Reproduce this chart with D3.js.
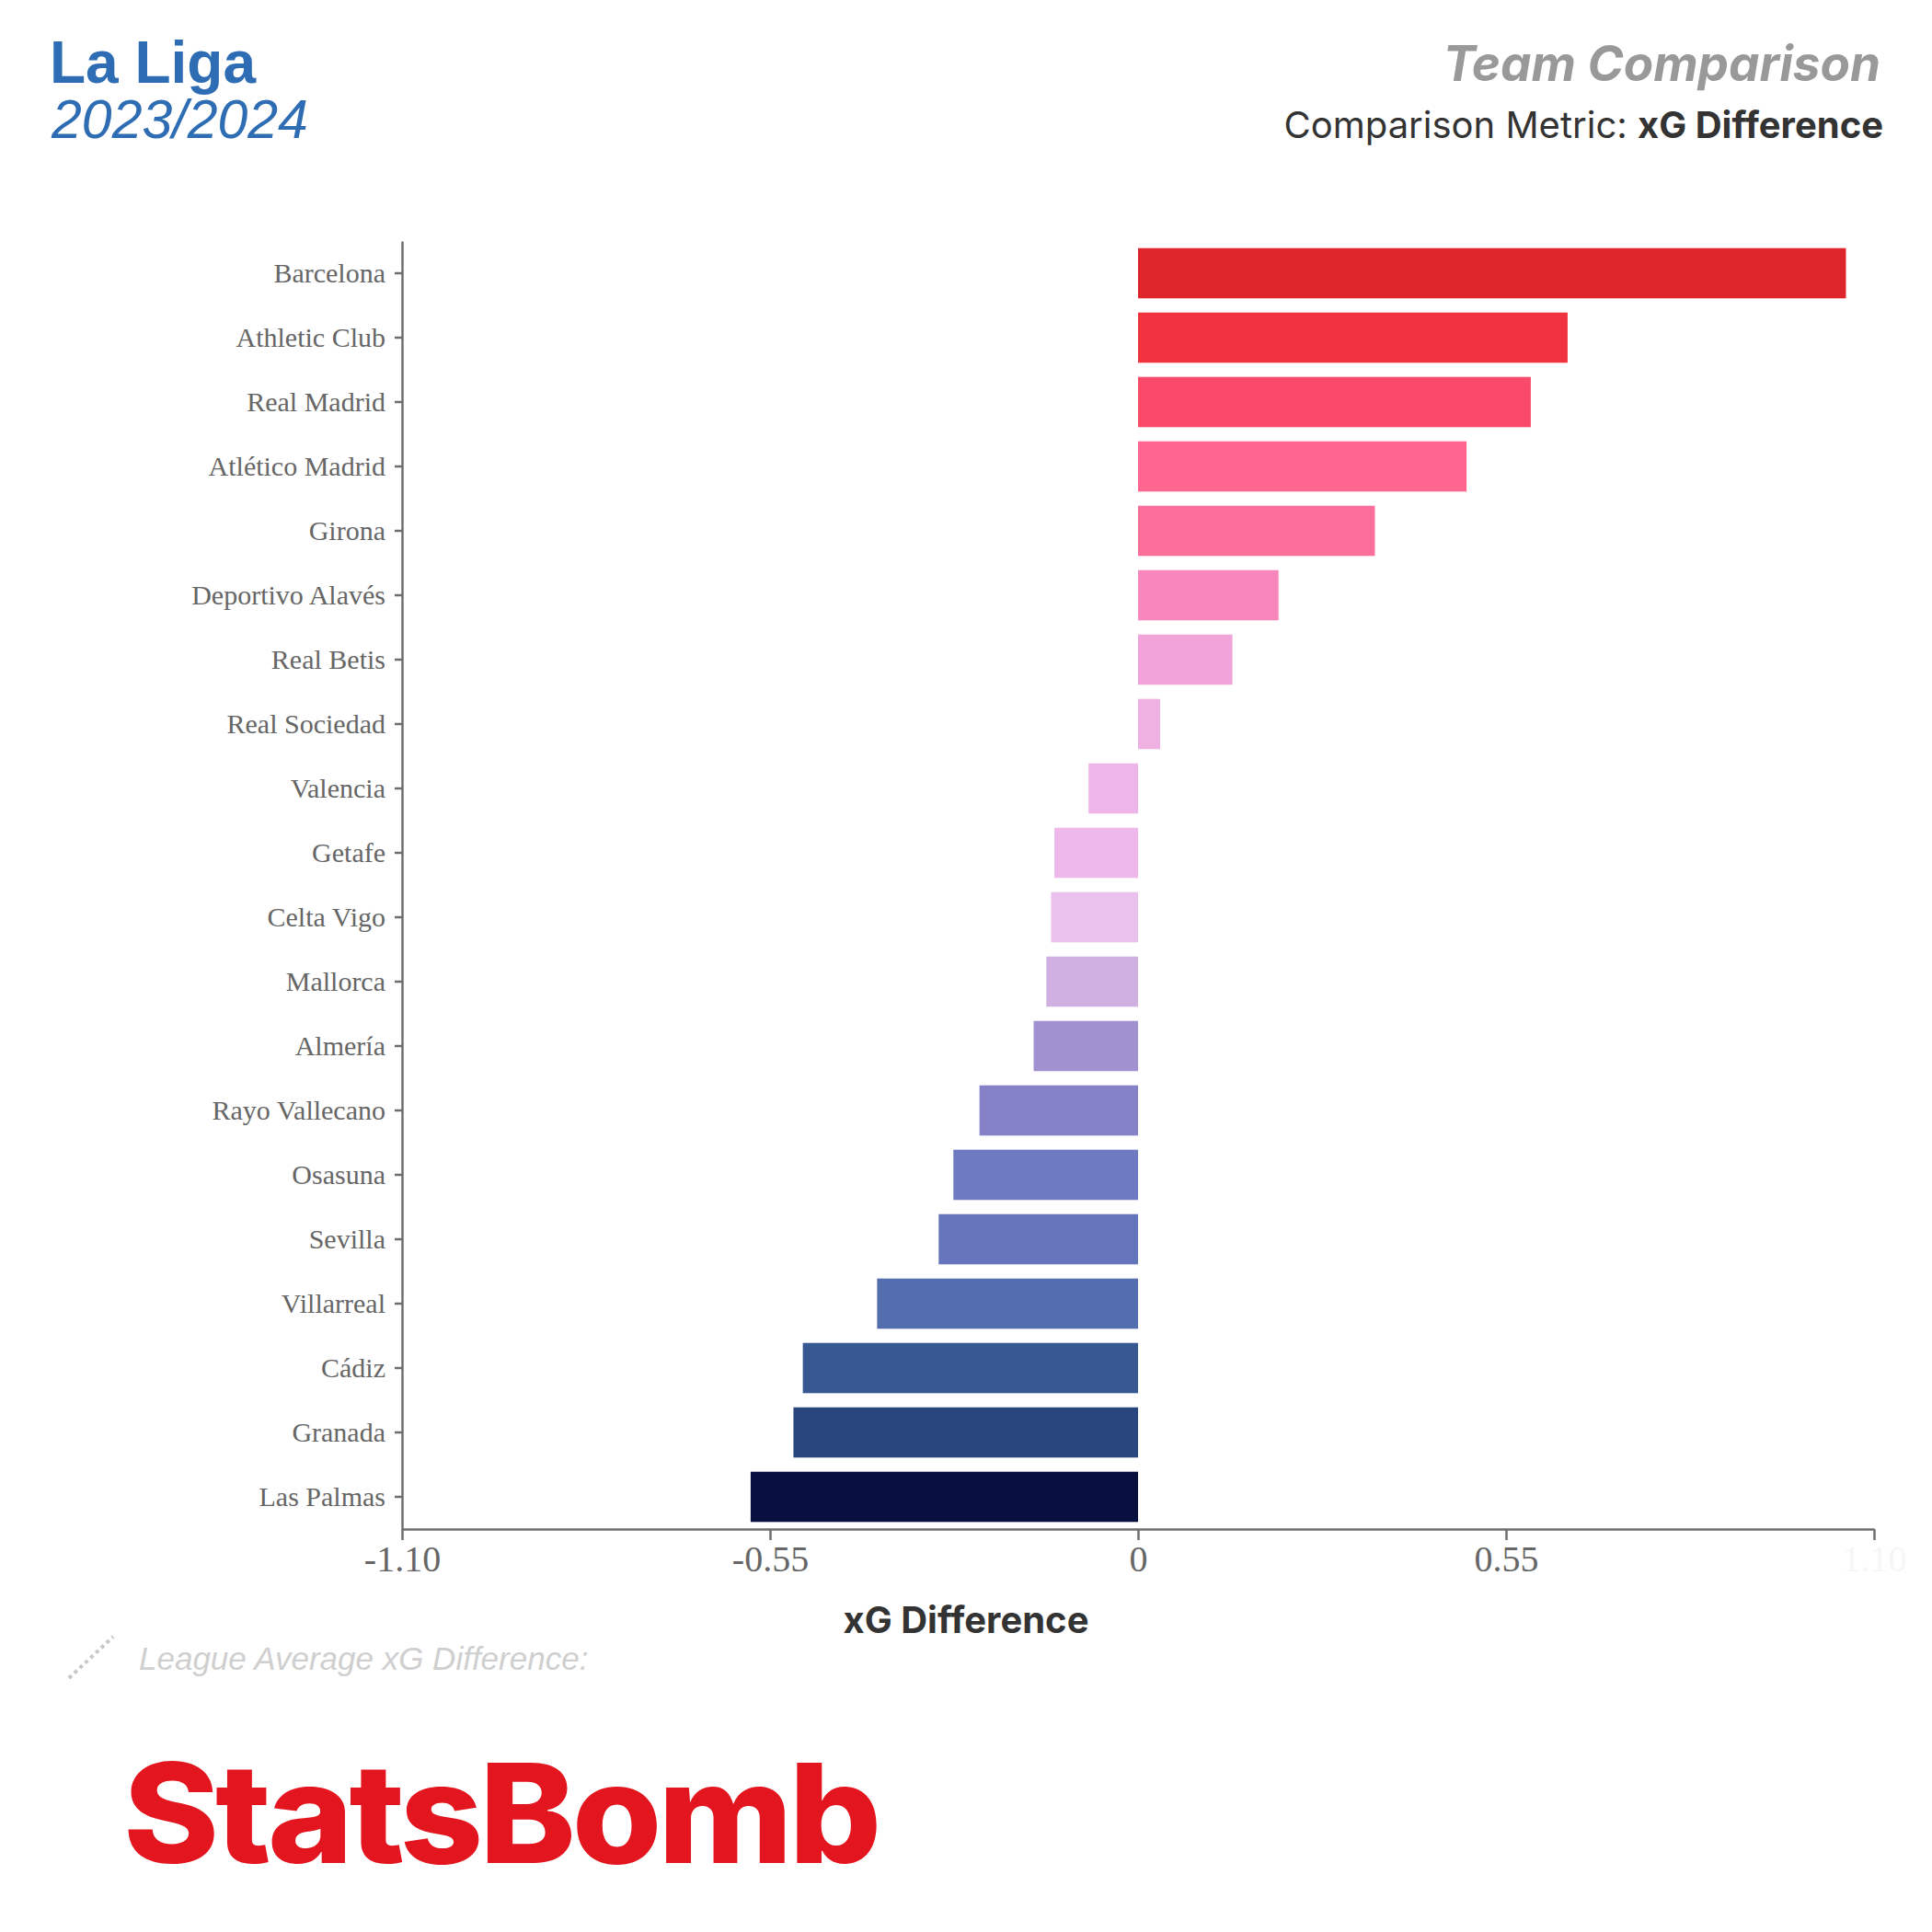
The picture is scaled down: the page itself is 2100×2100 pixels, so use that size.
<!DOCTYPE html>
<html>
<head>
<meta charset="utf-8">
<script src="https://cdn.jsdelivr.net/npm/d3@7"></script>
<style>
  body { margin: 0; background: #fff; }
</style>
</head>
<body>
<div id="chart"></div>
<script>
const width = 2100;
const height = 2100;

// teams, top to bottom
const teams = [
  "Barcelona", "Athletic Club", "Real Madrid", "Atlético Madrid", "Girona",
  "Deportivo Alavés", "Real Betis", "Real Sociedad", "Valencia", "Getafe",
  "Celta Vigo", "Mallorca", "Almería", "Rayo Vallecano", "Osasuna",
  "Sevilla", "Villarreal", "Cádiz", "Granada", "Las Palmas"
];

// xG difference per team
const xgDiff = [
  1.058, 0.642, 0.587, 0.491, 0.354,
  0.210, 0.141, 0.033, -0.074, -0.125,
  -0.130, -0.137, -0.156, -0.237, -0.276,
  -0.298, -0.390, -0.501, -0.515, -0.579
];

const tickValues = [-1.10, -0.55, 0, 0.55, 1.10];
const tickLabels = ["-1.10", "-0.55", "0", "0.55", "1.10"];

// palette, same order as teams
const barColors = [
  "#dd252b", "#f1323f", "#fa4a69", "#fe6690", "#fd6f9b",
  "#f888bc", "#f0a4d9", "#efb0e2", "#eeb6e8", "#eeb9ea",
  "#eac0ec", "#cfb0e1", "#a191d1", "#8682c8", "#6e7bc3",
  "#6475bb", "#536dae", "#385892", "#28477f", "#08103f"
];

const data = teams.map((t, i) => ({ team: t, value: xgDiff[i] }));

const plotLeft = 437, plotRight = 2037, plotTop = 262, plotBottom = 1662;
const axisColor = "#6e6e6e";

const svg = d3.select("#chart")
  .append("svg")
  .attr("width", width)
  .attr("height", height);

const x = d3.scaleLinear().domain([-1.10, 1.10]).range([plotLeft, plotRight]);
const y = d3.scaleBand().domain(teams).range([plotTop, plotBottom])
  .paddingInner(0.22).paddingOuter(0.11);
const color = d3.scaleOrdinal(teams, barColors);

// header
svg.append("text")
  .attr("x", 54).attr("y", 90)
  .style("font-family", "'Liberation Sans', Arial, sans-serif")
  .style("font-weight", "bold")
  .style("font-size", "64px")
  .style("fill", "#2e6db4")
  .text("La Liga");

svg.append("text")
  .attr("x", 56).attr("y", 150)
  .style("font-family", "'Liberation Sans', Arial, sans-serif")
  .style("font-style", "italic")
  .style("font-size", "59px")
  .style("fill", "#2e6db4")
  .text("2023/2024");

svg.append("text")
  .attr("x", 2044).attr("y", 88)
  .attr("text-anchor", "end")
  .style("font-family", "Inter, sans-serif")
  .style("font-weight", "bold")
  .style("font-style", "italic")
  .style("font-size", "53px")
  .style("fill", "#999")
  .text("Team Comparison");

const sub = svg.append("text")
  .attr("x", 2047).attr("y", 150)
  .attr("text-anchor", "end")
  .style("font-family", "Inter, sans-serif")
  .style("font-size", "40px")
  .style("fill", "#333");
sub.append("tspan").text("Comparison Metric: ");
sub.append("tspan").style("font-weight", "bold").text("xG Difference");

// bars
svg.append("g")
  .selectAll("rect")
  .data(data)
  .join("rect")
  .attr("x", d => x(Math.min(0, d.value)))
  .attr("y", d => y(d.team))
  .attr("width", d => Math.abs(x(d.value) - x(0)))
  .attr("height", y.bandwidth())
  .attr("fill", d => color(d.team));

// y axis
const yAxis = svg.append("g")
  .attr("transform", `translate(${plotLeft},0)`)
  .call(d3.axisLeft(y).tickSize(8).tickSizeOuter(0).tickPadding(10));
yAxis.select(".domain").attr("stroke", axisColor).attr("stroke-width", 2.5);
yAxis.selectAll(".tick line").attr("stroke", axisColor).attr("stroke-width", 2.5);
yAxis.selectAll(".tick text")
  .style("font-family", "'Liberation Serif', 'Times New Roman', serif")
  .style("font-size", "30px")
  .style("fill", "#666");

// x axis
const xAxis = svg.append("g")
  .attr("transform", `translate(0,${plotBottom})`)
  .call(d3.axisBottom(x)
    .tickValues(tickValues)
    .tickFormat((d, i) => tickLabels[i])
    .tickSize(12).tickSizeOuter(0).tickPadding(6));
xAxis.select(".domain").attr("stroke", axisColor).attr("stroke-width", 2.5);
xAxis.selectAll(".tick line").attr("stroke", axisColor).attr("stroke-width", 2.5);
xAxis.selectAll(".tick text")
  .style("font-family", "'Liberation Serif', 'Times New Roman', serif")
  .style("font-size", "40px")
  .style("fill", (d, i) => i === tickValues.length - 1 ? "#f6f6f6" : "#666");

// axis title
svg.append("text")
  .attr("x", 1050).attr("y", 1775)
  .attr("text-anchor", "middle")
  .style("font-family", "Inter, sans-serif")
  .style("font-weight", "bold")
  .style("font-size", "40px")
  .style("fill", "#333")
  .text("xG Difference");

// league average legend
svg.append("line")
  .attr("x1", 75).attr("y1", 1824)
  .attr("x2", 123).attr("y2", 1779)
  .attr("stroke", "#c8c8c8")
  .attr("stroke-width", 4)
  .attr("stroke-dasharray", "4 4");

svg.append("text")
  .attr("x", 151).attr("y", 1815)
  .style("font-family", "'Liberation Sans', Arial, sans-serif")
  .style("font-style", "italic")
  .style("font-size", "35px")
  .style("fill", "#cfcfcf")
  .text("League Average xG Difference:");

// logo
svg.append("text")
  .attr("x", 134).attr("y", 2025)
  .attr("textLength", 820)
  .attr("lengthAdjust", "spacingAndGlyphs")
  .style("font-family", "Inter, sans-serif")
  .style("font-weight", 800)
  .style("font-size", "150px")
  .style("letter-spacing", "-4px")
  .style("fill", "#e3151e")
  .text("StatsBomb");
</script>
</body>
</html>
